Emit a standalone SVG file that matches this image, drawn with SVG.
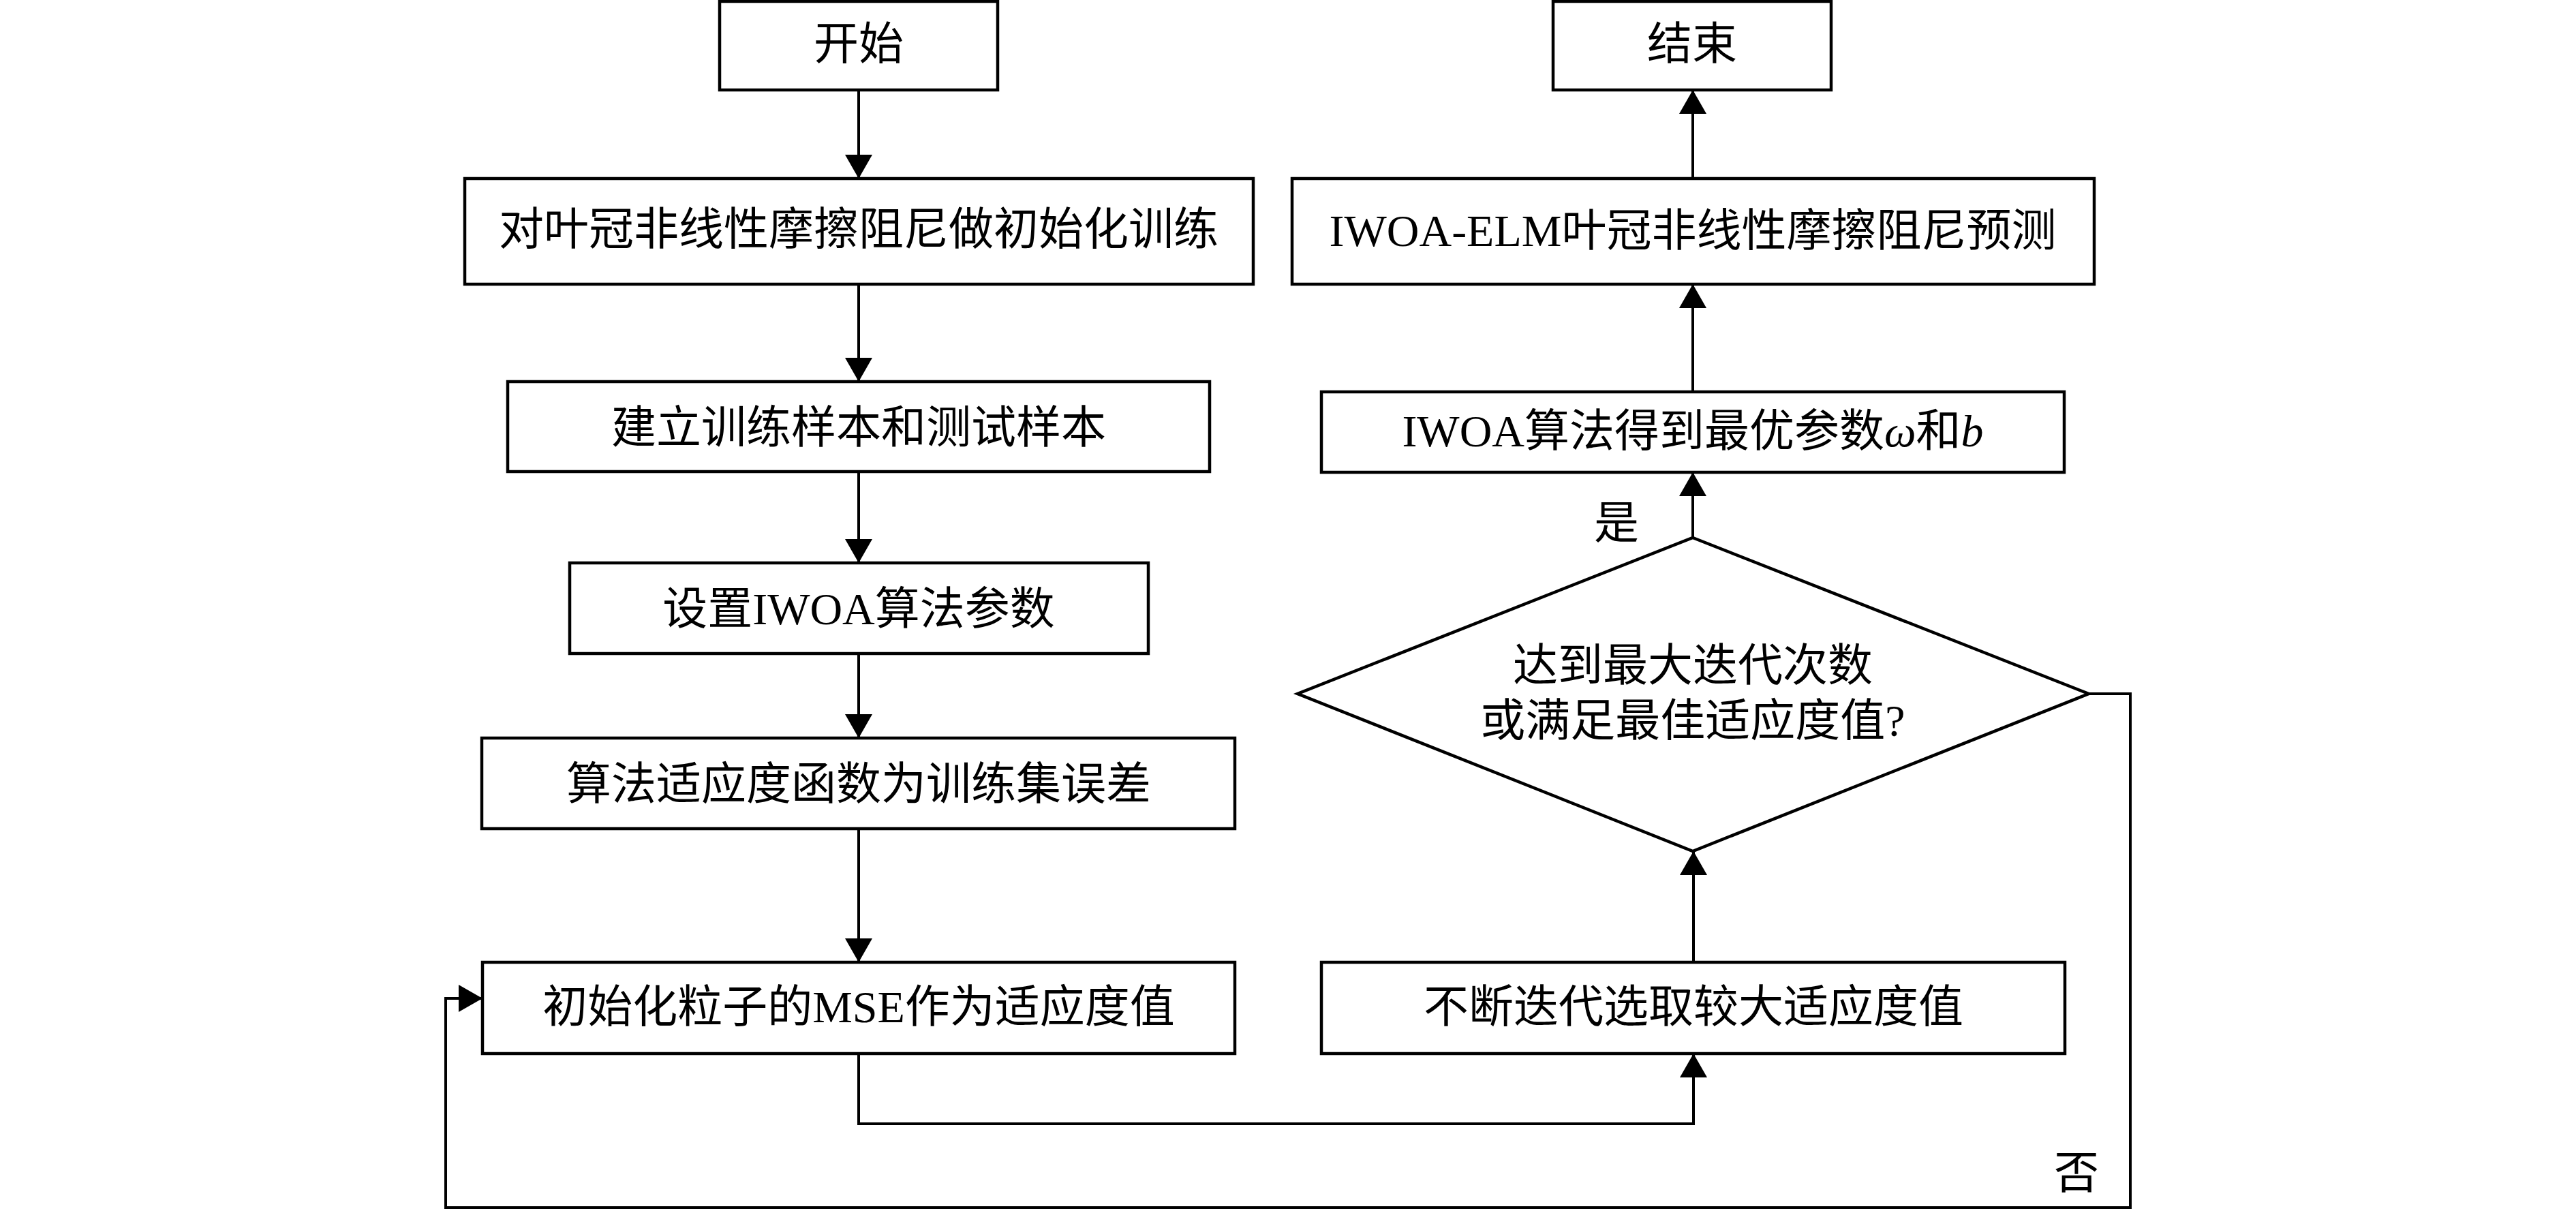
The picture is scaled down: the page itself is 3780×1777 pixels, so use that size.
<svg xmlns="http://www.w3.org/2000/svg" width="3780" height="1777" viewBox="0 0 3780 1777">
<style>
.box{fill:#fff;stroke:#000;stroke-width:4.5}
.lbl{font-family:"Liberation Serif","Noto Sans CJK SC",serif;font-size:66px;fill:#000;text-anchor:middle}
.edge{fill:none;stroke:#000;stroke-width:4}
.it{font-style:italic}
</style>
<defs>
<marker id="ah" viewBox="0 0 35 40" markerWidth="35" markerHeight="40" refX="35" refY="20" orient="auto" markerUnits="userSpaceOnUse">
<path d="M0,0 L35,20 L0,40 Z" fill="#000"/>
</marker>
</defs>
<rect width="3780" height="1777" fill="#fff"/>
<g id="connectors">
<line class="edge" x1="1260" y1="132" x2="1260" y2="262" marker-end="url(#ah)"/>
<line class="edge" x1="1260" y1="417" x2="1260" y2="560" marker-end="url(#ah)"/>
<line class="edge" x1="1260" y1="692" x2="1260" y2="826" marker-end="url(#ah)"/>
<line class="edge" x1="1260" y1="959" x2="1260" y2="1083" marker-end="url(#ah)"/>
<line class="edge" x1="1260" y1="1216" x2="1260" y2="1412" marker-end="url(#ah)"/>
<polyline class="edge" points="1260,1546 1260,1649 2485,1649 2485,1546" marker-end="url(#ah)"/>
<line class="edge" x1="2485" y1="1412" x2="2485" y2="1249" marker-end="url(#ah)"/>
<line class="edge" x1="2484" y1="789" x2="2484" y2="693" marker-end="url(#ah)"/>
<line class="edge" x1="2484" y1="575" x2="2484" y2="417" marker-end="url(#ah)"/>
<line class="edge" x1="2484" y1="262" x2="2484" y2="132" marker-end="url(#ah)"/>
<polyline class="edge" points="3065,1018 3126,1018 3126,1772 654,1772 654,1465 708,1465" marker-end="url(#ah)"/>
<text class="lbl" x="2372" y="790">是</text>
<text class="lbl" x="3047" y="1744">否</text>
</g>
<g id="start"><rect class="box" x="1056" y="2" width="408" height="130"/><text class="lbl" x="1260" y="87">开始</text></g>
<g id="init-train"><rect class="box" x="682" y="262" width="1157" height="155"/><text class="lbl" x="1260" y="359">对叶冠非线性摩擦阻尼做初始化训练</text></g>
<g id="samples"><rect class="box" x="745" y="560" width="1030" height="132"/><text class="lbl" x="1260" y="650">建立训练样本和测试样本</text></g>
<g id="params"><rect class="box" x="836" y="826" width="849" height="133"/><text class="lbl" x="1260" y="916">设置IWOA算法参数</text></g>
<g id="fitness-fn"><rect class="box" x="707" y="1083" width="1105" height="133"/><text class="lbl" x="1260" y="1173">算法适应度函数为训练集误差</text></g>
<g id="init-mse"><rect class="box" x="708" y="1412" width="1104" height="134"/><text class="lbl" x="1260" y="1500">初始化粒子的MSE作为适应度值</text></g>
<g id="iterate"><rect class="box" x="1939" y="1412" width="1091" height="134"/><text class="lbl" x="2485" y="1500">不断迭代选取较大适应度值</text></g>
<g id="decision"><polygon class="box" points="2484,789 3065,1018 2484,1249 1904,1018"/><text class="lbl" x="2484" y="999">达到最大迭代次数</text><text class="lbl" x="2484" y="1080">或满足最佳适应度值?</text></g>
<g id="optimal"><rect class="box" x="1939" y="575" width="1090" height="118"/><text class="lbl" x="2484" y="655">IWOA算法得到最优参数<tspan class="it">ω</tspan>和<tspan class="it">b</tspan></text></g>
<g id="predict"><rect class="box" x="1896" y="262" width="1177" height="155"/><text class="lbl" x="2484" y="361">IWOA-ELM叶冠非线性摩擦阻尼预测</text></g>
<g id="end"><rect class="box" x="2279" y="2" width="408" height="130"/><text class="lbl" x="2483" y="87">结束</text></g>
</svg>
